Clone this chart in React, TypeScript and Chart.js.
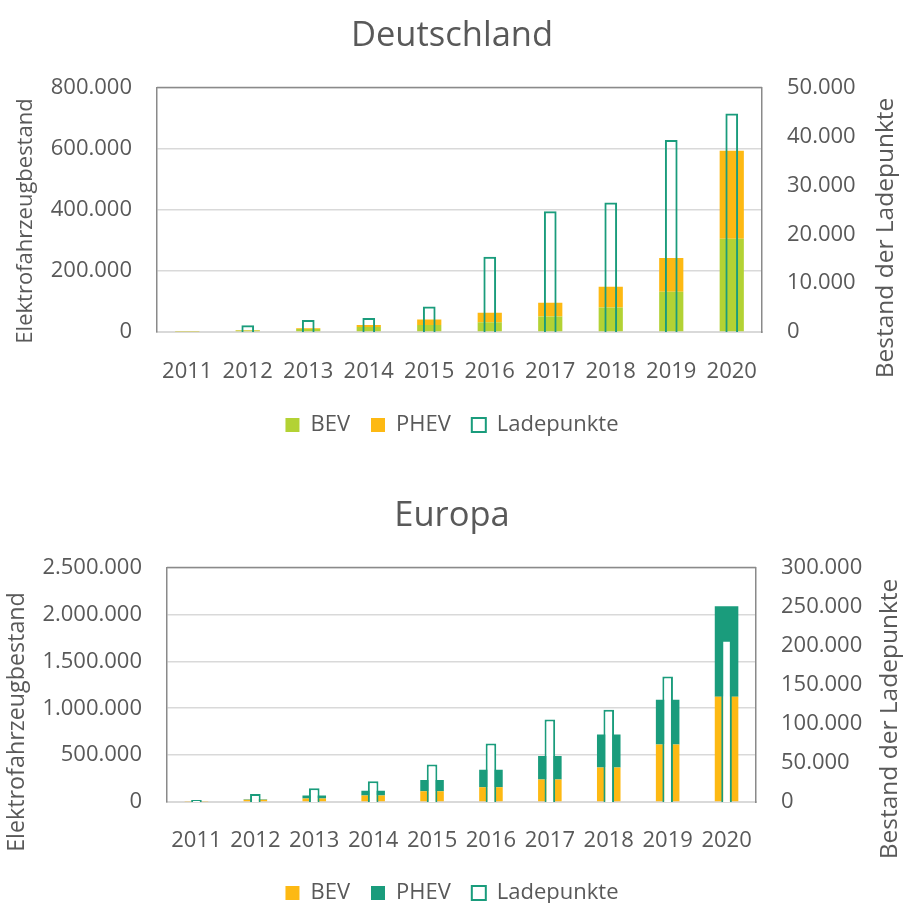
import React, { useEffect, useRef } from 'react';
import { Chart, registerables } from 'chart.js';

Chart.register(...registerables);

// ---------- data ----------
const YEARS = ['2011', '2012', '2013', '2014', '2015', '2016', '2017', '2018', '2019', '2020'];

const DE_BEV = [2000, 5000, 10000, 16000, 23000, 32000, 51000, 80000, 132000, 305000];
const DE_PHEV = [500, 1500, 2000, 7000, 18000, 31000, 45000, 68000, 110000, 288000];
const DE_LADE = [null, 1400, 2450, 2850, 5200, 15400, 24700, 26500, 39300, 44700];

const EU_BEV = [4000, 25000, 36000, 68000, 114000, 157000, 239000, 367000, 612000, 1122000];
const EU_PHEV = [1000, 3000, 32000, 53000, 121000, 188000, 252000, 352000, 478000, 965000];
const EU_LADE = [2600, 10300, 17500, 26500, 48000, 75000, 105500, 118000, 160700, 207700];

const DE_LEFT_TICKS = [0, 200000, 400000, 600000, 800000];
const DE_RIGHT_TICKS = [0, 10000, 20000, 30000, 40000, 50000];
const EU_LEFT_TICKS = [0, 500000, 1000000, 1500000, 2000000, 2500000];
const EU_RIGHT_TICKS = [0, 50000, 100000, 150000, 200000, 250000, 300000];

const TITLE_DE = 'Deutschland';
const TITLE_EU = 'Europa';
const LEFT_TITLE = 'Elektrofahrzeugbestand';
const RIGHT_TITLE = 'Bestand der Ladepunkte';
const LABEL_BEV = 'BEV';
const LABEL_PHEV = 'PHEV';
const LABEL_LADE = 'Ladepunkte';

// ---------- style ----------
const FONT = "'Open Sans', 'Noto Sans', sans-serif";
const GREY = '#595959';
const LIME = '#B3D234';
const ORANGE = '#FDB913';
const TEAL = '#1A9C7C';
const GRID = '#d9d9d9';
const FRAME = '#8a8a8a';

function fmt(v: number): string {
  return String(Math.round(v)).replace(/\B(?=(\d{3})+(?!\d))/g, '.');
}

type AxisTitle = { text: string; x: number; y: number; size: number };

function makePlugins(titles: AxisTitle[]) {
  const frame = {
    id: 'frameTop',
    beforeDatasetsDraw(chart: any) {
      const { ctx, chartArea: a } = chart;
      ctx.save();
      ctx.strokeStyle = FRAME;
      ctx.lineWidth = 1.5;
      ctx.beginPath();
      ctx.moveTo(a.left, a.top);
      ctx.lineTo(a.right, a.top);
      ctx.stroke();
      ctx.restore();
    },
  };
  const axisTitles = {
    id: 'axisTitlesRot',
    afterDraw(chart: any) {
      const { ctx } = chart;
      for (const t of titles) {
        ctx.save();
        ctx.translate(t.x, t.y);
        ctx.rotate(-Math.PI / 2);
        ctx.textAlign = 'center';
        ctx.textBaseline = 'middle';
        ctx.font = `${t.size}px ${FONT}`;
        ctx.fillStyle = GREY;
        ctx.fillText(t.text, 0, 0);
        ctx.restore();
      }
    },
  };
  return [frame, axisTitles];
}

type Cfg = {
  title: string;
  bevColor: string;
  phevColor: string;
  bev: number[];
  phev: number[];
  lade: (number | null)[];
  ladeFill: string;
  ladeWidth: number;
  leftTicks: number[];
  rightTicks: number[];
  leftW: number;
  rightW: number;
  titlePadTop: number;
  titlePadBottom: number;
  padBottom: number;
  xHeight: number;
  xPad: number;
  axisTitles: AxisTitle[];
};

function buildConfig(c: Cfg): any {
  const tickFont = { size: 22, family: FONT };
  return {
    type: 'bar',
    data: {
      labels: YEARS,
      datasets: [
        {
          label: LABEL_BEV,
          data: c.bev,
          backgroundColor: c.bevColor,
          borderWidth: 0,
          yAxisID: 'y',
          order: 1,
          categoryPercentage: 1,
          barPercentage: 0.4,
        },
        {
          label: LABEL_PHEV,
          data: c.phev,
          backgroundColor: c.phevColor,
          borderWidth: 0,
          yAxisID: 'y',
          order: 1,
          categoryPercentage: 1,
          barPercentage: 0.4,
        },
        {
          label: LABEL_LADE,
          data: c.lade,
          backgroundColor: c.ladeFill,
          borderColor: TEAL,
          borderWidth: 2,
          yAxisID: 'y2',
          order: 0,
          categoryPercentage: 1,
          barPercentage: c.ladeWidth,
        },
      ],
    },
    options: {
      responsive: false,
      animation: false,
      devicePixelRatio: 1,
      layout: { padding: { left: 0, right: 0, top: 0, bottom: c.padBottom } },
      plugins: {
        title: {
          display: true,
          text: c.title,
          color: GREY,
          font: { size: 34.5, family: FONT, weight: 'normal' },
          padding: { top: c.titlePadTop, bottom: c.titlePadBottom },
        },
        legend: {
          position: 'bottom',
          labels: {
            color: GREY,
            font: { size: 22, family: FONT },
            boxWidth: 14,
            boxHeight: 14,
            padding: 21,
            sort: (a: any, b: any) => a.datasetIndex - b.datasetIndex,
          },
        },
        tooltip: { enabled: false },
      },
      scales: {
        x: {
          stacked: true,
          grid: { display: false, drawTicks: false },
          border: { display: true, color: GRID, width: 2 },
          ticks: { font: tickFont, color: GREY, padding: c.xPad, maxRotation: 0 },
          afterFit: (s: any) => {
            s.height = c.xHeight;
          },
        },
        y: {
          stacked: true,
          position: 'left',
          min: c.leftTicks[0],
          max: c.leftTicks[c.leftTicks.length - 1],
          ticks: {
            stepSize: c.leftTicks[1] - c.leftTicks[0],
            callback: (v: any) => fmt(Number(v)),
            font: tickFont,
            color: GREY,
            padding: 25,
          },
          grid: { color: GRID, lineWidth: 1.5, drawTicks: false },
          border: { display: true, color: FRAME, width: 1.5 },
          afterFit: (s: any) => {
            s.width = c.leftW;
          },
        },
        y2: {
          position: 'right',
          min: c.rightTicks[0],
          max: c.rightTicks[c.rightTicks.length - 1],
          ticks: {
            stepSize: c.rightTicks[1] - c.rightTicks[0],
            callback: (v: any) => fmt(Number(v)),
            font: tickFont,
            color: GREY,
            padding: 25,
          },
          grid: { display: false, drawTicks: false },
          border: { display: true, color: FRAME, width: 1.5 },
          afterFit: (s: any) => {
            s.width = c.rightW;
          },
        },
      },
    },
    plugins: makePlugins(c.axisTitles),
  };
}

function ChartBox({ cfg, top, height }: { cfg: Cfg; top: number; height: number }) {
  const ref = useRef<HTMLCanvasElement | null>(null);
  useEffect(() => {
    if (!ref.current) return;
    const chart = new Chart(ref.current, buildConfig(cfg));
    return () => chart.destroy();
  }, []);
  return (
    <canvas
      ref={ref}
      width={904}
      height={height}
      style={{ position: 'absolute', left: 0, top, width: 904, height, display: 'block' }}
    />
  );
}

const DE_CFG: Cfg = {
  title: TITLE_DE,
  bevColor: LIME,
  phevColor: ORANGE,
  bev: DE_BEV,
  phev: DE_PHEV,
  lade: DE_LADE,
  ladeFill: 'rgba(255,255,255,0)',
  ladeWidth: 0.21,
  leftTicks: DE_LEFT_TICKS,
  rightTicks: DE_RIGHT_TICKS,
  leftW: 157,
  rightW: 142,
  titlePadTop: 15.1,
  titlePadBottom: 31.1,
  padBottom: 9,
  xHeight: 61,
  xPad: 27,
  axisTitles: [
    { text: LEFT_TITLE, x: 26, y: 221, size: 22 },
    { text: RIGHT_TITLE, x: 886, y: 238, size: 24.5 },
  ],
};

const EU_CFG: Cfg = {
  title: TITLE_EU,
  bevColor: ORANGE,
  phevColor: TEAL,
  bev: EU_BEV,
  phev: EU_PHEV,
  lade: EU_LADE,
  ladeFill: '#ffffff',
  ladeWidth: 0.18,
  leftTicks: EU_LEFT_TICKS,
  rightTicks: EU_RIGHT_TICKS,
  leftW: 167,
  rightW: 148,
  titlePadTop: 40.1,
  titlePadBottom: 31.1,
  padBottom: 11,
  xHeight: 59,
  xPad: 26,
  axisTitles: [
    { text: LEFT_TITLE, x: 17, y: 267, size: 23.3 },
    { text: RIGHT_TITLE, x: 890, y: 264, size: 24.5 },
  ],
};

export default function App() {
  return (
    <div
      style={{
        position: 'fixed',
        left: 0,
        top: 0,
        width: 904,
        height: 903,
        overflow: 'hidden',
        background: '#ffffff',
      }}
    >
      <ChartBox cfg={DE_CFG} top={0} height={455} />
      <ChartBox cfg={EU_CFG} top={455} height={470} />
    </div>
  );
}
